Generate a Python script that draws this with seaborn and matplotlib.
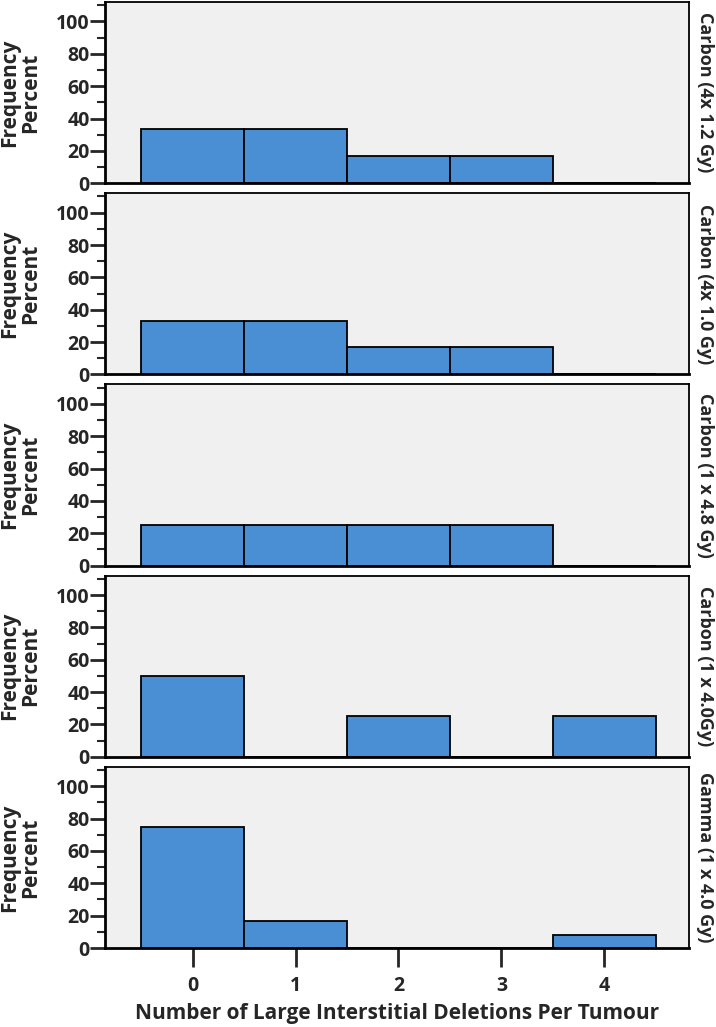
import numpy as np
import pandas as pd
import matplotlib
matplotlib.use("Agg")
import matplotlib.pyplot as plt
import seaborn as sns

# Datos (porcentaje por numero de deleciones)
deletions = [0, 1, 2, 3, 4]
panel_labels = [
    "Carbon (4x 1.2 Gy)",
    "Carbon (4x 1.0 Gy)",
    "Carbon (1 x 4.8 Gy)",
    "Carbon (1 x 4.0Gy)",
    "Gamma (1 x 4.0 Gy)",
]
carbon_4x12 = [33.3, 33.3, 16.7, 16.7, 0]
carbon_4x10 = [33.3, 33.3, 16.7, 16.7, 0]
carbon_1x48 = [25, 25, 25, 25, 0]
carbon_1x40 = [50, 0, 25, 0, 25]
gamma_1x40 = [75, 16.7, 0, 0, 8.3]
series = [carbon_4x12, carbon_4x10, carbon_1x48, carbon_1x40, gamma_1x40]

sns.set_style("white")
plt.rcParams["font.family"] = ["Open Sans", "DejaVu Sans"]
plt.rcParams["font.weight"] = "bold"

bar_color = "#4a8fd4"
bg_color = "#f0f0f0"

fig, axes = plt.subplots(5, 1, figsize=(7.16, 10.27), dpi=100, sharex=True)
fig.subplots_adjust(left=0.1467, right=0.962, top=0.998, bottom=0.0769, hspace=0.055)

for ax, vals, lab in zip(axes, series, panel_labels):
    df = pd.DataFrame({"n": deletions, "pct": vals})
    sns.histplot(data=df, x="n", weights="pct", discrete=True, ax=ax,
                 color=bar_color, alpha=1, edgecolor="black", linewidth=1.3)
    ax.set_facecolor(bg_color)
    ax.set_xlim(-0.85, 4.82)
    ax.set_ylim(0, 112)
    ax.set_yticks([0, 20, 40, 60, 80, 100])
    ax.set_yticks(np.arange(10, 111, 10), minor=True)
    ax.tick_params(axis="y", which="major", left=True, length=11, width=2,
                   labelsize=14, pad=0)
    ax.tick_params(axis="y", which="minor", left=True, length=6, width=1.5)
    for lbl in ax.get_yticklabels():
        lbl.set_fontweight("bold")
    for sp in ax.spines.values():
        sp.set_linewidth(1.3)
        sp.set_color("black")
    ax.spines["bottom"].set_linewidth(2)
    ax.spines["left"].set_linewidth(2)
    ax.set_ylabel("Frequency\nPercent", fontsize=15, fontweight="bold",
                  linespacing=1.0)
    ax.yaxis.set_label_coords(-0.109, 0.5)
    ax.text(1.013, 0.5, lab, transform=ax.transAxes, rotation=-90,
            va="center", ha="left", fontsize=13, fontweight="bold")
    ax.set_xlabel("")
    ax.tick_params(axis="x", bottom=False)

axes[-1].set_xticks(deletions)
axes[-1].tick_params(axis="x", bottom=True, length=14, width=2,
                     labelsize=14, pad=6)
for lbl in axes[-1].get_xticklabels():
    lbl.set_fontweight("bold")
axes[-1].set_xlabel("Number of Large Interstitial Deletions Per Tumour",
                    fontsize=15, fontweight="bold", labelpad=5)

fig.savefig("out.png", dpi=100)
